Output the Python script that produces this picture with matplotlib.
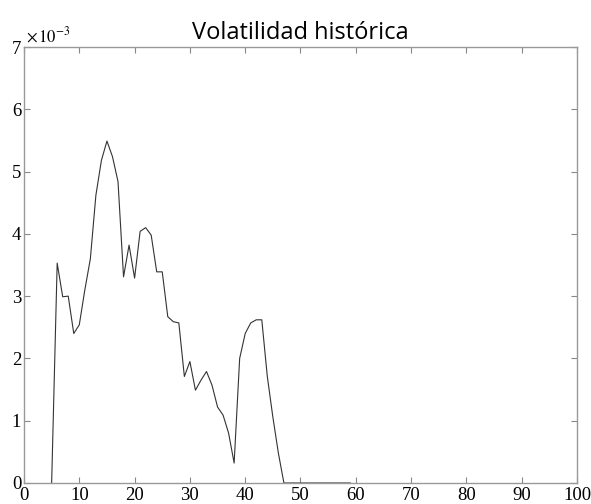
import matplotlib as mpl
mpl.use('Agg')
import matplotlib.pyplot as plt
from matplotlib.ticker import FuncFormatter
import numpy as np

# data (volatility, in units of 1e-3)
dias = [5, 6, 7, 8, 9, 10, 11, 12, 13, 14, 15, 16, 17, 18, 19, 20, 21, 22, 23, 24,
        25, 26, 27, 28, 29, 30, 31, 32, 33, 34, 35, 36, 37, 38, 39, 40, 41, 42, 43,
        44, 45, 46, 47, 48, 49, 50, 51, 52, 53, 54, 55, 56, 57, 58, 59]
vol = [0.0, 3.53, 2.99, 3.0, 2.40, 2.54, 3.1, 3.6, 4.62, 5.18, 5.49, 5.24, 4.84, 3.31,
       3.82, 3.29, 4.04, 4.10, 3.98, 3.39, 3.39, 2.67, 2.59, 2.57, 1.71, 1.95, 1.49,
       1.65, 1.79, 1.57, 1.22, 1.09, 0.80, 0.32, 2.0, 2.40, 2.57, 2.62, 2.62, 1.71,
       1.06, 0.48, 0.0, 0.0, 0.0, 0.0, 0.0, 0.0, 0.0, 0.0, 0.0, 0.0, 0.0, 0.0, 0.0]

x = np.array(dias)
y = np.array(vol) * 1e-3

plt.rcParams['mathtext.fontset'] = 'stix'

fig = plt.figure(figsize=(5.91, 5.04), dpi=100)
ax = fig.add_axes([0.0406, 0.0417, 0.9357, 0.865])

ax.plot(x, y, color='#333333', lw=0.8)

ax.set_xlim(0, 100)
ax.set_ylim(0, 0.007)
ax.set_xticks(np.arange(0, 101, 10))
ax.set_yticks(np.arange(0, 0.0071, 0.001))
ax.yaxis.set_major_formatter(FuncFormatter(lambda v, p: '%d' % round(v * 1e3)))

serif = 'Liberation Serif'
for lab in ax.get_xticklabels() + ax.get_yticklabels():
    lab.set_fontfamily(serif)
    lab.set_fontsize(13.5)

ax.tick_params(direction='in', length=4, width=0.8, color='#888888',
               top=True, right=True)
ax.tick_params(axis='x', pad=3)
ax.tick_params(axis='y', pad=2)
for s in ax.spines.values():
    s.set_color('#999999')
    s.set_linewidth(1.0)

ax.text(0.003, 1.003, r'$\times\,10^{-3}$', transform=ax.transAxes, fontsize=12,
        ha='left', va='bottom')

ax.set_title('Volatilidad histórica', fontsize=17, family='Open Sans', pad=6)

fig.savefig('out.png', dpi=100)
